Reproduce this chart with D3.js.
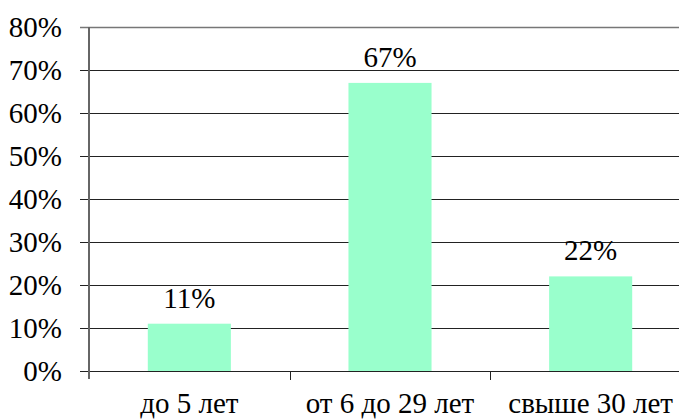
<!DOCTYPE html>
<html>
<head>
<meta charset="utf-8">
<script src="https://cdn.jsdelivr.net/npm/d3@7"></script>
<style>
  body { margin: 0; background: #fff; }
  svg text { font-family: "Liberation Serif", Tinos, "Times New Roman", Times, "DejaVu Serif", serif; }
</style>
</head>
<body>
<div id="chart"></div>
<script>
var categories = ["до 5 лет", "от 6 до 29 лет", "свыше 30 лет"];
var values = [11, 67, 22];
var yTicks = [0, 10, 20, 30, 40, 50, 60, 70, 80];

var W = 679, H = 419;
var plotL = 89, plotR = 691, plotT = 27, plotB = 371;

var svg = d3.select("#chart").append("svg")
    .attr("width", W)
    .attr("height", H)
    .style("display", "block");

var x = d3.scaleBand().domain(categories).range([plotL, plotR]).padding(0);
var y = d3.scaleLinear().domain([0, 80]).range([plotB, plotT]);
var barW = x.bandwidth() * 0.414;

// gridlines + y tick marks
svg.append("g")
    .selectAll("line")
    .data(yTicks)
    .enter()
    .append("line")
    .attr("x1", plotL - 9)
    .attr("x2", W)
    .attr("y1", function(d) { return Math.round(y(d)) + 0.5; })
    .attr("y2", function(d) { return Math.round(y(d)) + 0.5; })
    .style("stroke", function(d) { return d == 80 ? "#777" : "#222"; })
    .style("stroke-width", function(d) { return d == 80 ? 1.5 : 1; });

// y labels
svg.append("g")
    .selectAll("text")
    .data(yTicks)
    .enter()
    .append("text")
    .attr("x", 62)
    .attr("y", function(d) { return y(d) + 10; })
    .attr("text-anchor", "end")
    .style("font-size", "29px")
    .text(function(d) { return d + "%"; });

// bars
svg.append("g")
    .selectAll("rect")
    .data(values)
    .enter()
    .append("rect")
    .attr("x", function(d, i) { return x(categories[i]) + x.bandwidth() / 2 - barW / 2; })
    .attr("y", function(d) { return y(d); })
    .attr("width", barW)
    .attr("height", function(d) { return plotB - y(d); })
    .style("fill", "#99ffcc");

// baseline redraw over bars
svg.append("line")
    .attr("x1", plotL - 9).attr("x2", W)
    .attr("y1", plotB + 0.5).attr("y2", plotB + 0.5)
    .style("stroke", "#222");

// y axis line
svg.append("line")
    .attr("x1", plotL).attr("x2", plotL)
    .attr("y1", plotT).attr("y2", plotB + 8)
    .style("stroke", "#666")
    .style("stroke-width", 2);

// category ticks
svg.append("g")
    .selectAll("line")
    .data(categories.slice(1))
    .enter()
    .append("line")
    .attr("x1", function(d) { return Math.round(x(d)) + 0.5; })
    .attr("x2", function(d) { return Math.round(x(d)) + 0.5; })
    .attr("y1", plotB)
    .attr("y2", plotB + 9)
    .style("stroke", "#222");

// value labels
svg.append("g")
    .selectAll("text")
    .data(values)
    .enter()
    .append("text")
    .attr("x", function(d, i) { return x(categories[i]) + x.bandwidth() / 2; })
    .attr("y", function(d) { return y(d) - 16; })
    .attr("text-anchor", "middle")
    .style("font-size", "29px")
    .text(function(d) { return d + "%"; });

// category labels
svg.append("g")
    .selectAll("text")
    .data(categories)
    .enter()
    .append("text")
    .attr("x", function(d) { return x(d) + x.bandwidth() / 2; })
    .attr("y", 413)
    .attr("text-anchor", "middle")
    .style("font-size", "29px")
    .text(function(d) { return d; });
</script>
</body>
</html>
